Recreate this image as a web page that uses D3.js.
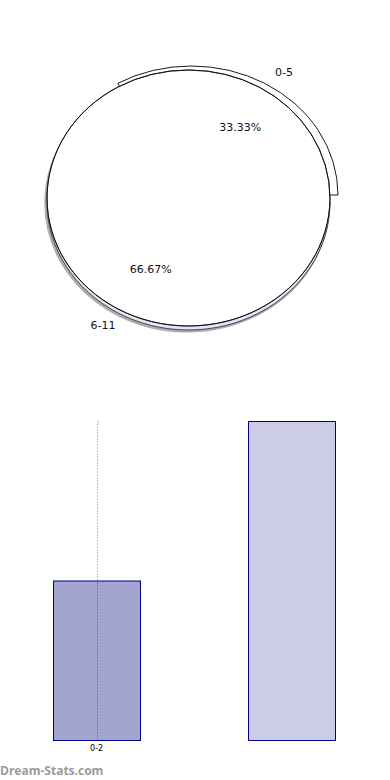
<!DOCTYPE html>
<html>
<head>
<meta charset="utf-8">
<style>
  body { margin: 0; background: #fff; }
  svg { display: block; font-family: "DejaVu Sans", sans-serif; }
</style>
</head>
<body>
<script src="https://cdn.jsdelivr.net/npm/d3@7"></script>
<script>
// pie data
var pieLabels = ["0-5", "6-11"]
var pieValues = [1, 2]
var piePercents = ["33.33%", "66.67%"]

// bar data
var barCategories = ["0-2", "3-5"]
var barValues = [1, 2]
var barTickLabels = ["0-2", ""]
var barFills = ["#a3a5d0", "#cccde5"]

var width = 390, height = 780

var svg = d3.select("body").append("svg")
    .attr("width", width)
    .attr("height", height)

// ---- pie (flattened, with a thin 3d wall) ----
var cx = 188.5, cy = 198, rx = 141.5, ry = 128, depth = 4

var pie = d3.pie().sort(null).value(d => d).startAngle(-Math.PI / 6).endAngle(2 * Math.PI - Math.PI / 6)
var slices = pie(pieValues)

var arc = d3.arc().innerRadius(0).outerRadius(rx)
var rim = d3.arc().innerRadius(rx).outerRadius(rx)

function squash(x, y, sy) {
    return `translate(${x},${y}) scale(1,${sy})`
}

// soft shadow of the big slice
svg.append("g")
    .attr("transform", squash(cx - 1.2, cy + depth + 1, ry / rx))
    .append("path")
    .attr("d", arc(slices[1]))
    .attr("fill", "none")
    .attr("stroke", "#999")
    .attr("stroke-width", 3)
    .attr("stroke-opacity", 0.8)
    .attr("vector-effect", "non-scaling-stroke")

// side wall of the big slice
svg.append("g")
    .attr("transform", squash(cx, cy + depth, ry / rx))
    .append("path")
    .attr("d", arc(slices[1]))
    .attr("fill", "#dfe7f7")
    .attr("stroke", "#333")
    .attr("stroke-width", 0.9)
    .attr("vector-effect", "non-scaling-stroke")

// exploded small slice
var exR = rx + 5.3
var ex = d3.arc().innerRadius(0).outerRadius(exR)
svg.append("g")
    .attr("transform", squash(cx + 2.7, cy - 3, (ry + 1) / exR))
    .append("path")
    .attr("d", ex(slices[0]))
    .attr("fill", "#fff")
    .attr("stroke", "#000")
    .attr("stroke-width", 0.9)
    .attr("vector-effect", "non-scaling-stroke")

// top faces
var faces = svg.append("g").attr("transform", squash(cx, cy, ry / rx))
faces.selectAll("path.face")
    .data(slices)
    .enter().append("path")
    .attr("class", "face")
    .attr("d", arc)
    .attr("fill", "#fff")
    .attr("stroke", "#fff")
    .attr("stroke-width", 1)
    .attr("vector-effect", "non-scaling-stroke")
faces.selectAll("path.rim")
    .data(slices)
    .enter().append("path")
    .attr("class", "rim")
    .attr("d", rim)
    .attr("fill", "none")
    .attr("stroke", "#000")
    .attr("stroke-width", 0.8)
    .attr("vector-effect", "non-scaling-stroke")

// labels
var inner = d3.arc().innerRadius(rx * 0.66).outerRadius(rx * 0.66)
var outer = d3.arc().innerRadius(rx * 1.18).outerRadius(rx * 1.18)
var pctNudge = [[5, 3], [9, -1]]
var nameNudge = [[12, 6], [-2, -3]]

svg.selectAll("text.pct")
    .data(slices)
    .enter().append("text")
    .attr("class", "pct")
    .attr("x", d => cx + inner.centroid(d)[0] + pctNudge[d.index][0])
    .attr("y", d => cy + inner.centroid(d)[1] * ry / rx + pctNudge[d.index][1])
    .attr("text-anchor", "middle")
    .attr("dominant-baseline", "middle")
    .attr("font-size", 11)
    .attr("fill", "#111")
    .text((d, i) => piePercents[i])

svg.selectAll("text.name")
    .data(slices)
    .enter().append("text")
    .attr("class", "name")
    .attr("x", d => cx + outer.centroid(d)[0] + nameNudge[d.index][0])
    .attr("y", d => cy + outer.centroid(d)[1] * ry / rx + nameNudge[d.index][1])
    .attr("text-anchor", "middle")
    .attr("dominant-baseline", "middle")
    .attr("font-size", 11)
    .attr("fill", "#111")
    .text((d, i) => pieLabels[i])

// ---- bars ----
var barTop = 421, barBottom = 740

var x = d3.scaleBand()
    .domain(barCategories)
    .range([-1, 389])
    .paddingInner(0.554)
    .paddingOuter(0.277)

var y = d3.scaleLinear()
    .domain([0, d3.max(barValues)])
    .range([barBottom, barTop])

svg.selectAll("rect.bar")
    .data(barValues)
    .enter().append("rect")
    .attr("class", "bar")
    .attr("x", (d, i) => x(barCategories[i]) + 0.5)
    .attr("y", d => y(d) + 0.5)
    .attr("width", x.bandwidth())
    .attr("height", d => barBottom - y(d))
    .attr("fill", (d, i) => barFills[i])
    .attr("stroke", "#000080")
    .attr("stroke-width", 1)

// dotted grid line at first category
var gx = Math.round(x(barCategories[0]) + x.bandwidth() / 2) + 0.5
svg.append("line")
    .attr("x1", gx).attr("x2", gx)
    .attr("y1", y(2) + 5).attr("y2", barBottom)
    .attr("stroke", "#000")
    .attr("stroke-opacity", 0.25)
    .attr("stroke-width", 1)
    .attr("stroke-dasharray", "2,1")

svg.append("text")
    .attr("x", gx)
    .attr("y", y(2) + 4)
    .attr("text-anchor", "middle")
    .attr("font-size", 5)
    .attr("fill", "#bbb")
    .text("2")

svg.selectAll("text.tick")
    .data(barCategories)
    .enter().append("text")
    .attr("class", "tick")
    .attr("x", d => x(d) + x.bandwidth() / 2)
    .attr("y", barBottom + 11)
    .attr("text-anchor", "middle")
    .attr("font-size", 8)
    .attr("fill", "#000")
    .text((d, i) => barTickLabels[i])

// watermark
svg.append("text")
    .attr("x", 0)
    .attr("y", 775)
    .attr("font-size", 12)
    .attr("font-weight", "bold")
    .attr("font-family", "'Open Sans', sans-serif")
    .attr("fill", "#9a9a9a")
    .text("Dream-Stats.com")
</script>
</body>
</html>
